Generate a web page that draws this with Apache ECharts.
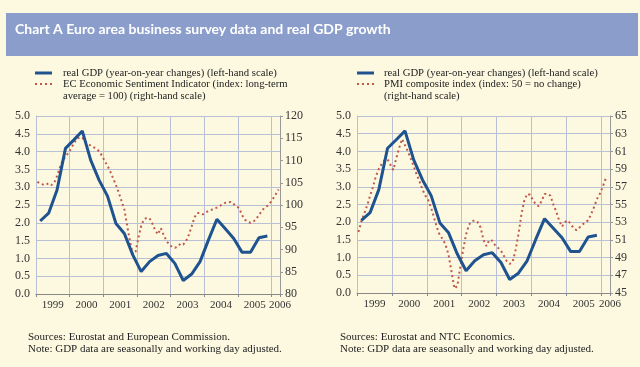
<!DOCTYPE html>
<html><head><meta charset="utf-8">
<script src="https://cdn.jsdelivr.net/npm/echarts@6/dist/echarts.min.js"></script>
<style>html,body{margin:0;padding:0;background:#fdf9e0}#c{width:640px;height:367px}</style>
</head><body><div id="c"></div>
<script>
// ---- data ----
var yearLabels = ['1999','2000','2001','2002','2003','2004','2005','2006'];
// real GDP, year-on-year % change, quarterly 1999Q1..2005Q4
var gdp = [2.05,2.27,2.92,4.09,4.33,4.58,3.76,3.2,2.75,1.98,1.7,1.1,0.63,0.91,1.08,1.14,0.86,0.38,0.56,0.91,1.52,2.1,1.83,1.56,1.17,1.17,1.58,1.63];
// EC Economic Sentiment Indicator, monthly Jan 1999..Mar 2006
var esi = [105.2,104.8,104.6,104.5,104.9,104.5,105.0,106.5,108.4,110.0,110.8,111.7,
112.7,113.8,114.9,115.1,115.2,114.2,113.8,113.3,113.0,112.6,112.1,111.1,
109.9,108.8,107.5,106.0,104.5,102.8,100.9,99.0,95.4,91.9,88.9,89.5,
92.6,95.3,96.8,97.1,97.0,95.8,94.3,93.4,94.8,93.3,92.0,91.1,
90.6,90.4,90.6,91.3,91.1,91.9,93.3,95.2,97.2,98.2,98.2,97.9,
98.3,98.7,98.9,99.2,99.4,99.8,100.1,100.5,100.6,100.7,100.2,99.8,
99.2,97.7,96.7,96.2,96.0,96.2,96.9,97.7,98.7,99.4,99.8,100.5,
101.4,102.4,103.5];
// PMI composite index, monthly Jan 1999..Feb 2006
var pmi = [51.9,53.1,54.0,54.9,56.0,57.0,58.2,59.0,59.6,60.0,60.1,59.5,
58.9,60.2,61.4,62.4,61.7,61.0,60.2,59.3,58.4,57.6,56.7,56.0,
55.5,54.6,53.5,52.4,51.5,51.1,50.4,49.3,47.4,45.5,45.8,47.9,
49.9,51.6,52.7,53.1,53.2,53.0,52.4,51.0,50.3,51.0,50.9,50.4,
50.1,49.8,49.2,48.6,48.3,48.5,49.8,51.6,53.8,55.4,56.2,56.1,
55.5,55.0,54.8,55.4,56.2,56.2,56.0,55.0,54.2,53.2,52.5,53.0,
53.2,52.8,52.3,52.1,52.4,52.7,53.0,53.2,53.9,54.7,55.6,56.2,
57.0,57.9];

var startYear = 1999;
function quarterly(arr){ return arr.map(function(v,i){ return [startYear + (i+0.5)/4, v]; }); }
function monthly(arr){ return arr.map(function(v,i){ return [startYear + (i+0.5)/12, v]; }); }
function yearLabel(k){
  if (k === 29) return yearLabels[7];
  if ((k - 2) % 4 === 0) { var j = (k - 2) / 4; if (j >= 0 && j < 7) return yearLabels[j]; }
  return '';
}

var SERIF = '"Liberation Serif","DejaVu Serif",serif';
var GRID = '#b9c0d6';
var TXT = '#333';
var BLUE = '#1f5390';
var RED = '#c0584a';
var DOTS = 'path://M0,0h2v2h-2zM5,0h2v2h-2zM10,0h2v2h-2zM15,0h2v2h-2z';

function mainX(g){
  return {type:'value', gridIndex:g, position:'bottom', min:1999, max:2006.25, interval:1,
    axisLine:{show:true,lineStyle:{color:'#888',width:1}},
    axisTick:{show:true,length:3,inside:false,lineStyle:{color:'#888'}},
    axisLabel:{show:false}, splitLine:{show:true,lineStyle:{color:GRID,width:1}}};
}
function labelX(g){
  return {type:'value', gridIndex:g, position:'bottom', min:0, max:29, interval:1,
    axisLine:{show:false}, axisTick:{show:false}, splitLine:{show:false},
    axisLabel:{show:true, margin:6, formatter:function(v){return yearLabel(Math.round(v));},
      fontFamily:SERIF, fontSize:11, color:TXT}};
}
function leftY(g){
  return {type:'value', gridIndex:g, position:'left', min:0, max:5, interval:0.5,
    axisLine:{show:true,lineStyle:{color:GRID}}, axisTick:{show:false},
    axisLabel:{formatter:function(v){return v.toFixed(1);}, fontFamily:SERIF, fontSize:12, color:TXT, margin:6},
    splitLine:{show:true,lineStyle:{color:GRID,width:1}}};
}
function rightY(g,mn,mx,iv){
  return {type:'value', gridIndex:g, position:'right', min:mn, max:mx, interval:iv,
    axisLine:{show:true,lineStyle:{color:'#999'}},
    axisTick:{show:true,length:3,lineStyle:{color:'#999'}},
    axisLabel:{fontFamily:SERIF, fontSize:12, color:TXT, margin:5},
    splitLine:{show:false}};
}
function legendAt(left, textPad, names){
  return {left:left, top:67.5, padding:0, orient:'vertical', itemWidth:17, itemHeight:3, itemGap:0,
    selectedMode:false,
    data:[{name:names[0], icon:'rect'}, {name:names[1], icon:DOTS}],
    textStyle:{fontFamily:SERIF, fontSize:10.7, lineHeight:10.6, color:'#222', padding:[0,0,0,textPad]}};
}

var nGdpL = 'real GDP (year-on-year changes) (left-hand scale)';
var nEsi = 'EC Economic Sentiment Indicator (index: long-term';
var nGdpR = 'real GDP (year-on-year changes) (left-hand scale) ';
var nPmi = 'PMI composite index (index: 50 = no change)';

var chart = echarts.init(document.getElementById('c'), null, {renderer:'canvas'});
chart.setOption({
  backgroundColor:'#fdf9e0',
  animation:false,
  title:{text:'Chart A Euro area business survey data and real GDP growth', left:15, top:22, padding:0,
    textStyle:{color:'#ffffff', fontFamily:'Lato', fontWeight:'bold', fontSize:14}},
  graphic:[
    {type:'rect', z:-1, shape:{x:6,y:13,width:632,height:43}, style:{fill:'#8b9dcb'}},
    {type:'text', left:63, top:90.5, style:{text:'average = 100) (right-hand scale)', font:'10.7px '+SERIF, fill:'#222'}},
    {type:'text', left:384, top:90.5, style:{text:'(right-hand scale)', font:'10.7px '+SERIF, fill:'#222'}},
    {type:'text', left:28, top:331, style:{text:'Sources: Eurostat and European Commission.\nNote: GDP data are seasonally and working day adjusted.', font:'11px '+SERIF, fill:'#222', lineHeight:12}},
    {type:'text', left:340, top:331, style:{text:'Sources: Eurostat and NTC Economics.\nNote: GDP data are seasonally and working day adjusted.', font:'11px '+SERIF, fill:'#222', lineHeight:12}}
  ],
  legend:[ legendAt(35, 6, [nGdpL, nEsi]), legendAt(357, 5, [nGdpR, nPmi]) ],
  grid:[
    {left:36, right:360, top:116, bottom:73},
    {left:357, right:30, top:116, bottom:74}
  ],
  xAxis:[mainX(0), labelX(0), mainX(1), labelX(1)],
  yAxis:[leftY(0), rightY(0,80,120,5), leftY(1), rightY(1,45,65,2)],
  series:[
    {name:nGdpL, type:'line', xAxisIndex:0, yAxisIndex:0,
     data:quarterly(gdp), symbol:'none', lineStyle:{color:BLUE,width:3}, itemStyle:{color:BLUE}, z:3},
    {name:nEsi, type:'line', xAxisIndex:0, yAxisIndex:1,
     data:monthly(esi), symbol:'none', lineStyle:{color:RED,width:2,type:[2,3]}, itemStyle:{color:RED}, z:2},
    {name:nGdpR, type:'line', xAxisIndex:2, yAxisIndex:2,
     data:quarterly(gdp), symbol:'none', lineStyle:{color:BLUE,width:3}, itemStyle:{color:BLUE}, z:3},
    {name:nPmi, type:'line', xAxisIndex:2, yAxisIndex:3,
     data:monthly(pmi), symbol:'none', lineStyle:{color:RED,width:2,type:[2,3]}, itemStyle:{color:RED}, z:2}
  ]
});
</script></body></html>
